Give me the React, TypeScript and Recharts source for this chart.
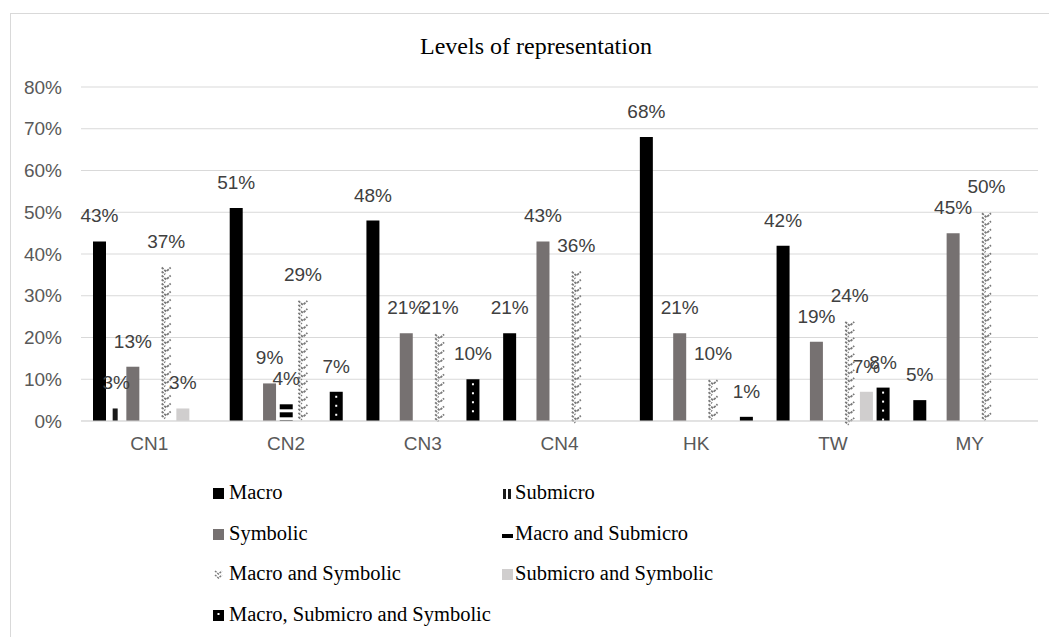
import React from 'react';
import { BarChart, Bar, XAxis, YAxis, CartesianGrid, LabelList } from 'recharts';

// values (percent)
const categories = ['CN1', 'CN2', 'CN3', 'CN4', 'HK', 'TW', 'MY'];
const macro = [43, 51, 48, 21, 68, 42, 5];
const submicro = [3, 0, 0, 0, 0, 0, 0];
const symbolic = [13, 9, 21, 43, 21, 19, 45];
const macroSubmicro = [0, 4, 0, 0, 0, 0, 0];
const macroSymbolic = [37, 29, 21, 36, 10, 24, 50];
const submicroSymbolic = [3, 0, 0, 0, 0, 7, 0];
const macroSubmicroSymbolic = [0, 7, 10, 0, 1, 8, 0];
const yTicks = [0, 10, 20, 30, 40, 50, 60, 70, 80];

const data = categories.map((name, i) => ({
  name,
  macro: macro[i],
  submicro: submicro[i],
  symbolic: symbolic[i],
  macroSubmicro: macroSubmicro[i],
  macroSymbolic: macroSymbolic[i],
  submicroSymbolic: submicroSymbolic[i],
  mss: macroSubmicroSymbolic[i],
}));

const SANS = "'Liberation Sans', Arial, sans-serif";
const SERIF = "'Liberation Serif', 'Times New Roman', serif";

// pattern-like bar shapes
const StripeShape = (p: any) => {
  const { x, y, width, height } = p;
  if (!height || height <= 0) return <g />;
  return <rect x={x + 3} y={y} width={Math.min(5, width - 3)} height={height} fill="#1a1a1a" />;
};

const HBandShape = (p: any) => {
  const { x, y, width, height } = p;
  if (!height || height <= 0) return <g />;
  const parts = [];
  for (let yy = y; yy < y + height; yy += 8) {
    parts.push(<rect key={yy} x={x} y={yy} width={width} height={Math.min(5, y + height - yy)} fill="#000" />);
  }
  return <g>{parts}</g>;
};

const ZigzagShape = (p: any) => {
  const { x, y, width, height } = p;
  if (!height || height <= 0) return <g />;
  let d = '';
  for (let yy = y + 1; yy < y + height - 2; yy += 8) {
    d += `M${x + 2},${yy} L${x + width / 2},${yy + 4} L${x + width - 2},${yy} `;
    d += `M${x + 2},${yy + 4} L${x + width / 2 - 1},${yy + 7} `;
  }
  return <path d={d} fill="none" stroke="#7a7a7a" strokeWidth={1.8} strokeDasharray="2.5 1" />;
};

const DotShape = (p: any) => {
  const { x, y, width, height } = p;
  if (!height || height <= 0) return <g />;
  const dots = [];
  for (let yy = y + 4; yy < y + height - 2; yy += 9) {
    dots.push(<rect key={yy} x={x + width / 2 - 1} y={yy} width={2} height={2} fill="#fff" />);
  }
  return (
    <g>
      <rect x={x} y={y} width={width} height={height} fill="#000" />
      {dots}
    </g>
  );
};

const series = [
  { key: 'macro', name: 'Macro', fill: '#000000' },
  { key: 'submicro', name: 'Submicro', fill: '#1a1a1a', shape: StripeShape },
  { key: 'symbolic', name: 'Symbolic', fill: '#767171' },
  { key: 'macroSubmicro', name: 'Macro and Submicro', fill: '#000000', shape: HBandShape },
  { key: 'macroSymbolic', name: 'Macro and Symbolic', fill: '#7a7a7a', shape: ZigzagShape },
  { key: 'submicroSymbolic', name: 'Submicro and Symbolic', fill: '#d0cece' },
  { key: 'mss', name: 'Macro, Submicro and Symbolic', fill: '#000000', shape: DotShape },
];

const LegendIcon = ({ k }: { k: string }) => {
  let inner: React.ReactNode;
  switch (k) {
    case 'submicro':
      inner = (
        <g>
          <rect x={1} y={1} width={3} height={10} fill="#1a1a1a" />
          <rect x={6} y={1} width={3} height={10} fill="#1a1a1a" />
        </g>
      );
      break;
    case 'macroSubmicro':
      inner = <rect x={0} y={5} width={11} height={4} fill="#000" />;
      break;
    case 'macroSymbolic':
      inner = (
        <path d="M2,2 L5.5,5 L9,2 M2,6 L5.5,9 L9,6" fill="none" stroke="#7a7a7a" strokeWidth={1.5} strokeDasharray="2 1" />
      );
      break;
    case 'symbolic':
      inner = <rect x={0} y={0} width={11} height={11} fill="#767171" />;
      break;
    case 'submicroSymbolic':
      inner = <rect x={0} y={0} width={11} height={11} fill="#d0cece" />;
      break;
    case 'mss':
      inner = (
        <g>
          <rect x={0} y={0} width={11} height={11} fill="#000" />
          <rect x={4.5} y={3} width={2} height={2} fill="#fff" />
        </g>
      );
      break;
    default:
      inner = <rect x={0} y={0} width={11} height={11} fill="#000" />;
  }
  return (
    <svg width={11} height={11} style={{ position: 'absolute', left: 0, top: 6 }}>
      {inner}
    </svg>
  );
};

const legendCols = [213, 502];
const legendTextDx = [16, 13];

export default function App() {
  return (
    <div style={{ position: 'absolute', left: 0, top: 0, width: 1049, height: 637, background: '#fff', overflow: 'hidden' }}>
      <div
        style={{
          position: 'absolute',
          left: 10,
          top: 13,
          width: 1039,
          height: 624,
          borderTop: '1px solid #d9d9d9',
          borderLeft: '1px solid #d9d9d9',
          boxSizing: 'border-box',
        }}
      />
      <div
        style={{
          position: 'absolute',
          left: 0,
          top: 34,
          width: 1072,
          textAlign: 'center',
          fontFamily: SERIF,
          fontSize: 24,
          lineHeight: '24px',
          color: '#000',
        }}
      >
        Levels of representation
      </div>

      <div style={{ position: 'absolute', left: 0, top: 0 }}>
        <BarChart width={1049} height={470} data={data} margin={{ top: 87, right: 11, bottom: 19, left: 1 }} barGap={3.67}>
          <CartesianGrid vertical={false} stroke="#d9d9d9" />
          <XAxis
            dataKey="name"
            height={30}
            tickLine={false}
            tickSize={6}
            tickMargin={10}
            axisLine={{ stroke: '#d9d9d9' }}
            tick={{ fill: '#595959', fontSize: 19, fontFamily: SANS }}
          />
          <YAxis
            width={80}
            domain={[0, 80]}
            ticks={yTicks}
            tickFormatter={(v: number) => `${v}%`}
            axisLine={false}
            tickLine={false}
            tickSize={6}
            tickMargin={13}
            tick={{ fill: '#595959', fontSize: 19, fontFamily: SANS }}
          />
          {series.map((s) => (
            <Bar
              key={s.key}
              dataKey={s.key}
              name={s.name}
              fill={s.fill}
              barSize={13}
              isAnimationActive={false}
              shape={s.shape ? (p: any) => <s.shape {...p} /> : undefined}
            >
              <LabelList
                dataKey={s.key}
                position="top"
                offset={19}
                formatter={(v: any) => (v ? `${v}%` : '')}
                fill="#404040"
                fontSize={19}
                fontFamily={SANS}
              />
            </Bar>
          ))}
        </BarChart>
      </div>

      {series.map((s, i) => {
        const col = i % 2;
        const row = Math.floor(i / 2);
        return (
          <div
            key={s.key}
            style={{
              position: 'absolute',
              left: legendCols[col],
              top: 482 + row * 40.7,
              height: 21,
              whiteSpace: 'nowrap',
            }}
          >
            <LegendIcon k={s.key} />
            <span
              style={{
                position: 'absolute',
                left: legendTextDx[col],
                top: 0,
                fontFamily: SERIF,
                fontSize: 20.5,
                lineHeight: '20.5px',
                color: '#000',
              }}
            >
              {s.name}
            </span>
          </div>
        );
      })}
    </div>
  );
}
